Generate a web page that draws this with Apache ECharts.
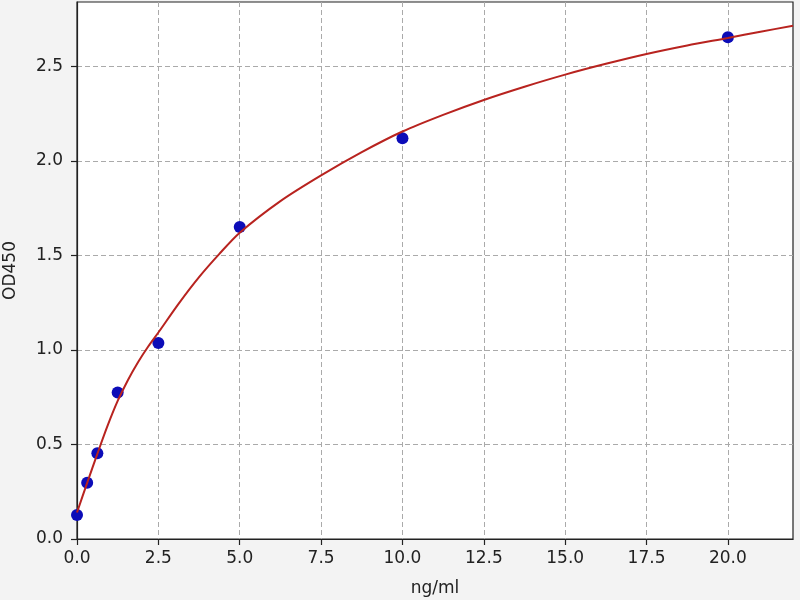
<!DOCTYPE html>
<html>
<head>
<meta charset="utf-8">
<script src="https://cdn.jsdelivr.net/npm/echarts@6/dist/echarts.min.js"></script>
<style>
html,body{margin:0;padding:0;background:#f3f3f3;}
#c{width:800px;height:600px;}
</style>
</head>
<body>
<div id="c"></div>
<script>
// Standard points (concentration ng/ml, OD450)
var stdX = [0, 0.3125, 0.625, 1.25, 2.5, 5, 10, 20];
var stdY = [0.127, 0.298, 0.453, 0.775, 1.037, 1.650, 2.120, 2.654];
// Fitted curve
var curveX = [0, 0.3125, 0.625, 0.9375, 1.25, 1.5625, 1.875, 2.1875, 2.5, 3.125, 3.75, 4.375, 5, 6.25, 7.5, 8.75, 10, 11.25, 12.5, 13.75, 15, 16.25, 17.5, 18.75, 20, 21, 22];
var curveY = [0.14, 0.297, 0.450, 0.598, 0.730, 0.840, 0.935, 1.018, 1.092, 1.245, 1.385, 1.508, 1.620, 1.787, 1.923, 2.046, 2.155, 2.243, 2.322, 2.392, 2.456, 2.513, 2.565, 2.610, 2.650, 2.683, 2.714];
// Tick labels
var xTicks = [0, 2.5, 5, 7.5, 10, 12.5, 15, 17.5, 20];
var yTicks = [0, 0.5, 1.0, 1.5, 2.0, 2.5];

var font = 'DejaVu Sans';
var chart = echarts.init(document.getElementById('c'));
chart.setOption({
  backgroundColor: '#f3f3f3',
  animation: false,
  grid: {
    left: 77, right: 7, top: 2, bottom: 61,
    containLabel: false, outerBoundsMode: 'none',
    show: true, backgroundColor: '#ffffff', borderColor: '#222222', borderWidth: 1.2
  },
  xAxis: {
    type: 'value', min: 0, max: 22, interval: 2.5,
    name: 'ng/ml', nameLocation: 'middle', nameGap: 41,
    nameTextStyle: {fontFamily: font, fontSize: 17, color: '#222'},
    axisLine: {show: true, onZero: false, lineStyle: {color: '#222', width: 1.2}},
    axisTick: {show: true, length: 6, customValues: xTicks, lineStyle: {color: '#222', width: 1.2}},
    axisLabel: {customValues: xTicks, margin: 11, fontFamily: font, fontSize: 17, color: '#222',
      formatter: function (v) { return v.toFixed(1); }},
    splitLine: {show: true, lineStyle: {color: '#aaaaaa', width: 1, type: [5, 3]}}
  },
  yAxis: {
    type: 'value', min: 0, max: 2.84, interval: 0.5,
    name: 'OD450', nameLocation: 'middle', nameGap: 58,
    nameTextStyle: {fontFamily: font, fontSize: 17, color: '#222'},
    axisLine: {show: true, onZero: false, lineStyle: {color: '#222', width: 1.2}},
    axisTick: {show: true, length: 6, customValues: yTicks, lineStyle: {color: '#222', width: 1.2}},
    axisLabel: {customValues: yTicks, margin: 14, fontFamily: font, fontSize: 17, color: '#222',
      formatter: function (v) { return v.toFixed(1); }},
    splitLine: {show: true, lineStyle: {color: '#aaaaaa', width: 1, type: [5, 3]}}
  },
  series: [
    {
      type: 'scatter', z: 2,
      data: stdX.map(function (x, i) { return [x, stdY[i]]; }),
      symbolSize: 12,
      itemStyle: {color: '#0c0cb8', opacity: 1}
    },
    {
      type: 'line', z: 3, smooth: 0.3, showSymbol: false, clip: true,
      data: curveX.map(function (x, i) { return [x, curveY[i]]; }),
      lineStyle: {color: '#b8231f', width: 2}
    }
  ]
});
</script>
</body>
</html>
